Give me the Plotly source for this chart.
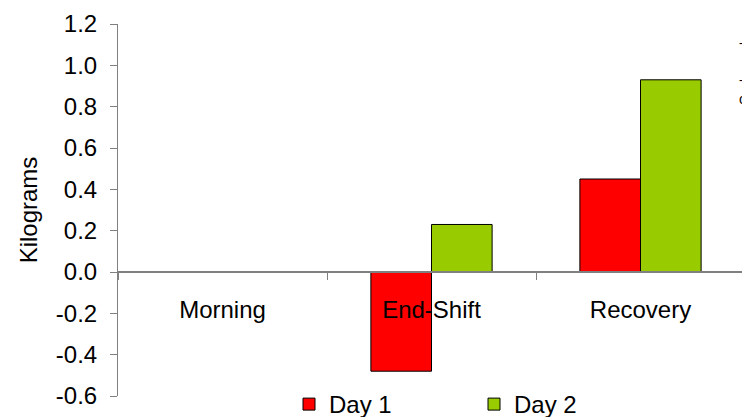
import plotly.graph_objects as go

# Change in body mass relative to the morning weigh-in
categories = ["Morning", "End-Shift", "Recovery"]
day1 = [0.0, -0.48, 0.45]
day2 = [0.0, 0.23, 0.93]
series_names = ["Day 1", "Day 2"]
y_ticks = [1.2, 1.0, 0.8, 0.6, 0.4, 0.2, 0.0, -0.2, -0.4, -0.6]
y_tick_text = ["1.2", "1.0", "0.8", "0.6", "0.4", "0.2", "0.0", "-0.2", "-0.4", "-0.6"]

FONT = "Arial, Liberation Sans, sans-serif"
FS = 24
AXIS_GREY = "#808080"

W, H = 742, 417
ML, MT, MB = 118, 24, 21
plot_w = W - ML
plot_h = H - MT - MB
cat_px = 209.0  # width of one category slot


def px_x(x):
    return (x - ML) / plot_w


def px_y(y):
    return (H - MB - y) / plot_h


fig = go.Figure()
fig.add_trace(go.Bar(
    x=categories, y=day1, name=series_names[0],
    marker=dict(color="#FF0000", line=dict(color="#000000", width=1)),
))
fig.add_trace(go.Bar(
    x=categories, y=day2, name=series_names[1],
    marker=dict(color="#99CC00", line=dict(color="#000000", width=1)),
))

y_min, y_max = -0.6, 1.2
zero_frac = (0 - y_min) / (y_max - y_min)

# clipped text fragments at the right edge
edge_marks = [("-", 43, 12), ("-", 80, 12), ("c", 99, 14)]

fig.update_layout(
    width=W, height=H,
    margin=dict(l=ML, r=0, t=MT, b=MB, pad=0, autoexpand=False),
    paper_bgcolor="white", plot_bgcolor="white",
    font=dict(family=FONT, size=FS, color="#000000"),
    barmode="group", bargap=0.42, bargroupgap=0,
    showlegend=True,
    legend=dict(
        orientation="h", x=px_x(289), xanchor="left",
        y=px_y(404.5), yanchor="middle",
        entrywidth=140, entrywidthmode="pixels",
        font=dict(family=FONT, size=FS, color="#000000"),
        bgcolor="rgba(0,0,0,0)", tracegroupgap=0,
    ),
    xaxis=dict(
        type="category",
        range=[-0.5, -0.5 + plot_w / cat_px],
        anchor="free", position=zero_frac,
        showline=True, linecolor=AXIS_GREY, linewidth=2,
        ticks="outside", ticklen=7, tickcolor=AXIS_GREY, tickwidth=1,
        tickson="boundaries", ticklabelstandoff=16,
        showgrid=False, zeroline=False, automargin=False,
        tickfont=dict(family=FONT, size=FS, color="#000000"),
    ),
    yaxis=dict(
        range=[y_min, y_max],
        tickvals=y_ticks, ticktext=y_tick_text,
        showline=True, linecolor=AXIS_GREY, linewidth=1,
        ticks="outside", ticklen=7, tickcolor=AXIS_GREY, tickwidth=1,
        ticklabelstandoff=8,
        showgrid=False, zeroline=False, automargin=False,
        tickfont=dict(family=FONT, size=FS, color="#000000"),
        title=dict(text="Kilograms", font=dict(family=FONT, size=FS, color="#000000"),
                   standoff=11),
    ),
    annotations=[
        dict(
            xref="paper", yref="paper", x=px_x(737), y=px_y(yy),
            xanchor="left", yanchor="middle", showarrow=False,
            text=t, font=dict(family=FONT, size=s, color="#000000"),
        )
        for t, yy, s in edge_marks
    ],
)

fig.write_html("out.html")
